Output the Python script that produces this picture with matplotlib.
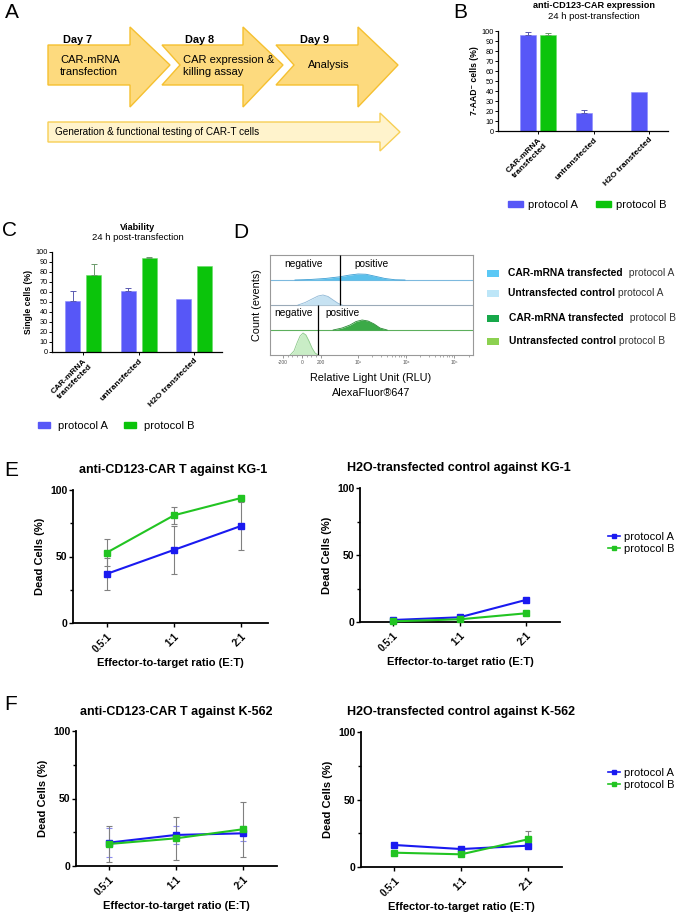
import numpy as np
import matplotlib
matplotlib.use("Agg")
import matplotlib.pyplot as plt
from matplotlib.patches import Polygon, Patch, Rectangle
from matplotlib.lines import Line2D

plt.rcParams["font.family"] = ["Liberation Sans", "DejaVu Sans"]

W, H = 685, 915

BAR_BLUE = "#5757F7"
BAR_GREEN = "#0BC40B"
LINE_BLUE = "#1A1AF0"
LINE_GREEN = "#22C422"
ARROW_FILL = "#FDDA7E"
ARROW_EDGE = "#F5C030"
BAND_FILL = "#FFF3CC"
BAND_EDGE = "#F7CF55"

# ---- B: anti-CD123-CAR expression (7-AAD- cells %) ----
groups = ["CAR-mRNA\ntransfected", "untransfected", "H2O transfected"]
b_prot_a = [96.5, 18.5, 39.5]
b_prot_a_err = [2.2, 2.8, np.nan]
b_prot_b = [96.0, np.nan, np.nan]
b_prot_b_err = [1.6, np.nan, np.nan]

# ---- C: viability (single cells %) ----
c_prot_a = [51.3, 61.0, 53.3]
c_prot_a_err = [9.7, 3.5, np.nan]
c_prot_b = [76.7, 94.5, 86.0]
c_prot_b_err = [11.6, 0.5, np.nan]

# ---- D: flow histograms (display channel 0-1000, height as lane fraction) ----
d_car_a_x = [123, 197, 271, 345, 394, 434, 473, 518, 567, 616, 665]
d_car_a_h = [0, 0.02, 0.06, 0.13, 0.20, 0.24, 0.23, 0.15, 0.06, 0.01, 0]
d_unt_a_x = [138, 173, 207, 237, 261, 286, 311, 335, 355]
d_unt_a_h = [0, 0.10, 0.24, 0.36, 0.40, 0.34, 0.20, 0.07, 0]
d_car_b_x = [311, 355, 394, 424, 454, 483, 513, 542, 577]
d_car_b_h = [0, 0.08, 0.20, 0.34, 0.40, 0.36, 0.24, 0.08, 0]
d_unt_b_x = [99, 118, 133, 148, 163, 177, 192, 207, 222, 237]
d_unt_b_h = [0, 0.16, 0.48, 0.76, 0.88, 0.80, 0.56, 0.28, 0.08, 0]
d_gate_a = 345
d_gate_b = 236
d_tick_pos = [64, 158, 251, 433, 670, 907]
d_tick_lab = ["-200", "0", "200", "10³", "10⁴", "10⁵"]

# ---- E / F: killing assays (dead cells %) ----
ratios = ["0.5:1", "1:1", "2:1"]
e_kg1_car_a = [37.0, 55.0, 73.0]
e_kg1_car_a_err = [12.0, 18.0, 18.0]
e_kg1_car_b = [53.0, 81.0, 94.0]
e_kg1_car_b_err = [10.0, 6.3, 0.0]
e_kg1_h2o_a = [1.5, 3.5, 16.5]
e_kg1_h2o_b = [0.5, 2.0, 6.5]

f_k562_car_a = [17.3, 23.0, 24.2]
f_k562_car_a_err = [10.5, 6.8, 5.7]
f_k562_car_b = [16.3, 20.5, 27.2]
f_k562_car_b_err = [13.6, 16.0, 20.5]
f_k562_h2o_a = [16.3, 13.3, 15.8]
f_k562_h2o_b = [10.6, 9.4, 20.5]
f_k562_h2o_b_err = [0.0, 0.0, 6.2]


def rect(l, t, r, b):
    return [l / W, 1 - b / H, (r - l) / W, (b - t) / H]


fig = plt.figure(figsize=(W / 100, H / 100), dpi=100)


def bar_panel(box, xlim, a, a_err, b, b_err, ylabel, offset, width):
    ax = fig.add_axes(rect(*box))
    x = np.arange(len(groups))
    a, a_err, b, b_err = map(np.asarray, (a, a_err, b, b_err))
    ax.bar(x - offset, a, width, color=BAR_BLUE, edgecolor="#8a8aff", lw=0.4)
    ax.bar(x + offset, b, width, color=BAR_GREEN, edgecolor="#66dd66", lw=0.4)
    for xs, v, e, c in ((x - offset, a, a_err, "#5a5ab0"), (x + offset, b, b_err, "#6a9a6a")):
        m = np.isfinite(v) & np.isfinite(e)
        ax.errorbar(xs[m], v[m], yerr=[np.zeros(m.sum()), e[m]], fmt="none",
                    ecolor=c, elinewidth=0.7, capsize=2, capthick=0.7)
    ax.set_xlim(*xlim)
    ax.set_ylim(0, 100)
    ax.set_yticks(range(0, 101, 10))
    ax.tick_params(axis="y", labelsize=5.3, length=2, width=0.7, pad=1)
    ax.set_xticks(x)
    ax.set_xticklabels(groups, rotation=45, ha="right", rotation_mode="anchor",
                       fontsize=6, fontweight="bold")
    ax.tick_params(axis="x", length=2, width=0.7, pad=2)
    for s in ("top", "right"):
        ax.spines[s].set_visible(False)
    for s in ("left", "bottom"):
        ax.spines[s].set_linewidth(0.9)
    ax.set_ylabel(ylabel, fontsize=6.2, fontweight="bold", labelpad=2)
    return ax


def bar_legend(ax, x, y, hl, tp, cs):
    ax.legend(handles=[Patch(color=BAR_BLUE), Patch(color=BAR_GREEN)],
              labels=["protocol A", "protocol B"], ncol=2, loc="center left",
              bbox_to_anchor=(x / W, 1 - y / H), bbox_transform=fig.transFigure,
              frameon=False, fontsize=8, handlelength=hl, handleheight=0.55,
              handletextpad=tp, columnspacing=cs, borderpad=0, borderaxespad=0)


# B
ax_b = bar_panel((498, 31, 668, 131), (-0.72, 2.34), b_prot_a, b_prot_a_err,
                 b_prot_b, b_prot_b_err, "7-AAD⁻ cells (%)", 0.18, 0.29)
bar_legend(ax_b, 508, 205, 1.35, 0.45, 1.6)

# C
ax_c = bar_panel((52, 252, 222, 352), (-0.56, 2.5), c_prot_a, c_prot_a_err,
                 c_prot_b, c_prot_b_err, "Single cells (%)", 0.19, 0.27)
bar_legend(ax_c, 38, 426, 1.1, 0.7, 1.45)

# D
ax_d = fig.add_axes(rect(270, 255, 473, 355))
lanes = [
    (d_car_a_x, d_car_a_h, 3, "#5BC0EB", "#3D9FD4", "#7DB9DE"),
    (d_unt_a_x, d_unt_a_h, 2, "#C6E2F2", "#8FB8D6", "#9AAAB8"),
    (d_car_b_x, d_car_b_h, 1, "#3BAA47", "#2A8A35", "#5DAF5D"),
    (d_unt_b_x, d_unt_b_h, 0, "#C9EDC6", "#8CC98A", None),
]
for xs, hs, base, fc, ec, lc in lanes:
    xs = np.asarray(xs, float)
    hs = np.asarray(hs, float)
    ax_d.fill_between(xs, base, base + hs, color=fc, lw=0, zorder=2)
    ax_d.plot(xs, base + hs, color=ec, lw=0.6, zorder=3)
    if lc:
        ax_d.axhline(base, color=lc, lw=0.8, zorder=1)
ax_d.vlines(d_gate_a, 2, 4, color="black", lw=0.9, zorder=4)
ax_d.vlines(d_gate_b, 0, 2, color="black", lw=0.9, zorder=4)
ax_d.text(163, 3.64, "negative", ha="center", va="center", fontsize=7.3)
ax_d.text(498, 3.64, "positive", ha="center", va="center", fontsize=7.3)
ax_d.text(118, 1.68, "negative", ha="center", va="center", fontsize=7.3)
ax_d.text(355, 1.68, "positive", ha="center", va="center", fontsize=7.3)
ax_d.set_xlim(0, 1000)
ax_d.set_ylim(0, 4)
ax_d.set_yticks([])
ax_d.set_xticks(d_tick_pos)
ax_d.set_xticklabels(d_tick_lab, fontsize=3.5, color="#555555")
minor = list(np.arange(64, 251, 23.4))
for start in (433, 670, 907):
    minor += [start + 237 * np.log10(k) for k in range(2, 10) if start + 237 * np.log10(k) < 1000]
ax_d.set_xticks(minor, minor=True)
ax_d.tick_params(axis="x", which="major", length=2.5, width=0.6, color="#888888", pad=1)
ax_d.tick_params(axis="x", which="minor", length=1.5, width=0.5, color="#888888")
for s in ax_d.spines.values():
    s.set_color("#999999")
    s.set_linewidth(0.8)
ax_d.set_ylabel("Count (events)", fontsize=7.8, labelpad=6)


# E / F
def line_panel(box, xlim, a, a_err, a_ecol, b, b_err, b_ecol):
    ax = fig.add_axes(rect(*box))
    x = np.arange(len(ratios))
    ax.errorbar(x, a, yerr=a_err, color=LINE_BLUE, ecolor=a_ecol, marker="s", ms=5,
                lw=1.5, elinewidth=0.8, capsize=2.5, capthick=0.8, clip_on=False, zorder=3)
    ax.errorbar(x, b, yerr=b_err, color=LINE_GREEN, ecolor=b_ecol, marker="s", ms=5,
                lw=1.5, elinewidth=0.8, capsize=2.5, capthick=0.8, clip_on=False, zorder=3)
    ax.set_xlim(*xlim)
    ax.set_ylim(0, 100)
    ax.set_yticks([0, 50, 100])
    ax.set_yticks([25, 75], minor=True)
    ax.set_xticks(x)
    ax.set_xticklabels(ratios, rotation=45, ha="right", rotation_mode="anchor",
                       fontsize=7, fontweight="bold")
    for lab in ax.get_yticklabels():
        lab.set_fontweight("bold")
    ax.tick_params(axis="y", labelsize=7.5, length=3, width=1, pad=1)
    ax.tick_params(axis="y", which="minor", length=2, width=1)
    ax.tick_params(axis="x", length=3, width=1, pad=3)
    for s in ("top", "right"):
        ax.spines[s].set_visible(False)
    for s in ("left", "bottom"):
        ax.spines[s].set_linewidth(1.3)
    ax.set_ylabel("Dead Cells (%)", fontsize=8, fontweight="bold", labelpad=4)
    ax.set_xlabel("Effector-to-target ratio (E:T)", fontsize=8, fontweight="bold", labelpad=3)
    return ax


GREY_ERR = "#808080"
line_panel((73, 490, 268, 623), (-0.507, 2.4), e_kg1_car_a, e_kg1_car_a_err, GREY_ERR,
           e_kg1_car_b, e_kg1_car_b_err, GREY_ERR)
line_panel((360, 488, 560, 622), (-0.496, 2.51), e_kg1_h2o_a, None, GREY_ERR,
           e_kg1_h2o_b, None, GREY_ERR)
line_panel((76, 731, 277, 866), (-0.49, 2.51), f_k562_car_a, f_k562_car_a_err, "#8C8CF0",
           f_k562_car_b, f_k562_car_b_err, GREY_ERR)
line_panel((361, 732, 562, 867), (-0.5, 2.51), f_k562_h2o_a, None, GREY_ERR,
           f_k562_h2o_b, f_k562_h2o_b_err, GREY_ERR)

for ly in (543, 779):
    fig.legend(handles=[Line2D([], [], color=LINE_BLUE, marker="s", ms=3, lw=1.2),
                        Line2D([], [], color=LINE_GREEN, marker="s", ms=3, lw=1.2)],
               labels=["protocol A", "protocol B"], loc="center left",
               bbox_to_anchor=(608 / W, 1 - ly / H), frameon=False, fontsize=8,
               handlelength=1.1, handletextpad=0.35, labelspacing=0.2,
               borderpad=0, borderaxespad=0)

# overlay in pixel coordinates for diagram, titles and labels
ov = fig.add_axes([0, 0, 1, 1])
ov.set_xlim(0, W)
ov.set_ylim(H, 0)
ov.axis("off")

# panel A arrows
arrows = [
    [(48, 45), (130, 45), (130, 27), (170, 65), (130, 107), (130, 85), (48, 85)],
    [(162, 45), (243, 45), (243, 27), (283, 65), (243, 107), (243, 85), (162, 85), (180, 65)],
    [(276, 45), (358, 45), (358, 27), (398, 65), (358, 107), (358, 85), (276, 85), (294, 65)],
]
for pts in arrows:
    ov.add_patch(Polygon(pts, closed=True, facecolor=ARROW_FILL, edgecolor=ARROW_EDGE, lw=1))
ov.add_patch(Polygon([(48, 122), (380, 122), (380, 113), (400, 132), (380, 151), (380, 142), (48, 142)],
                     closed=True, facecolor=BAND_FILL, edgecolor=BAND_EDGE, lw=1))
for x, day in ((63, "Day 7"), (185, "Day 8"), (300, "Day 9")):
    ov.text(x, 40, day, fontsize=7.8, fontweight="bold", va="center")
ov.text(60, 66, "CAR-mRNA\ntransfection", fontsize=8, va="center", linespacing=1.2)
ov.text(183, 66, "CAR expression &\nkilling assay", fontsize=8, va="center", linespacing=1.2)
ov.text(308, 65, "Analysis", fontsize=8, va="center")
ov.text(55, 132, "Generation & functional testing of CAR-T cells", fontsize=7.2, va="center")

# panel letters
for (x, y), s in zip(((12, 13), (460, 12), (10, 230), (241, 232), (11, 471), (11, 704)), "ABCDEF"):
    ov.text(x, y, s, fontsize=15, ha="center", va="center")

# bar titles
ov.text(594, 5, "anti-CD123-CAR expression", fontsize=6.6, fontweight="bold", ha="center", va="center")
ov.text(594, 16.5, "24 h post-transfection", fontsize=6.8, ha="center", va="center")
ov.text(138, 227, "Viability", fontsize=6.6, fontweight="bold", ha="center", va="center")
ov.text(138, 237, "24 h post-transfection", fontsize=6.8, ha="center", va="center")

# D axis label and legend
ov.text(371, 378, "Relative Light Unit (RLU)", fontsize=7.8, ha="center", va="center")
ov.text(371, 393, "AlexaFluor®647", fontsize=7.8, ha="center", va="center")
d_legend = [
    (273.5, "#5BC8F5", "CAR-mRNA transfected", "  protocol A", 508),
    (293, "#BDE6F8", "Untransfected control", " protocol A", 508),
    (318, "#17A84A", "CAR-mRNA transfected", "  protocol B", 509),
    (341.5, "#8CD150", "Untransfected control", " protocol B", 509),
]
for y, col, bold, rest, tx in d_legend:
    ov.add_patch(Rectangle((487, y - 3.5), 12, 7, facecolor=col, edgecolor="none"))
    t = ov.text(tx, y, bold, fontsize=7.4, fontweight="bold", va="center")
    ov.annotate(rest, xy=(1, 0.5), xycoords=t, va="center", ha="left", fontsize=7.4, color="#333333")

# line plot titles
for x, y, s in ((173, 470, "anti-CD123-CAR T against KG-1"),
                (459, 468, "H2O-transfected control against KG-1"),
                (176, 712, "anti-CD123-CAR T against K-562"),
                (461, 712, "H2O-transfected control against K-562")):
    ov.text(x, y, s, fontsize=9, fontweight="bold", ha="center", va="center")

fig.savefig("out.png", dpi=100)
